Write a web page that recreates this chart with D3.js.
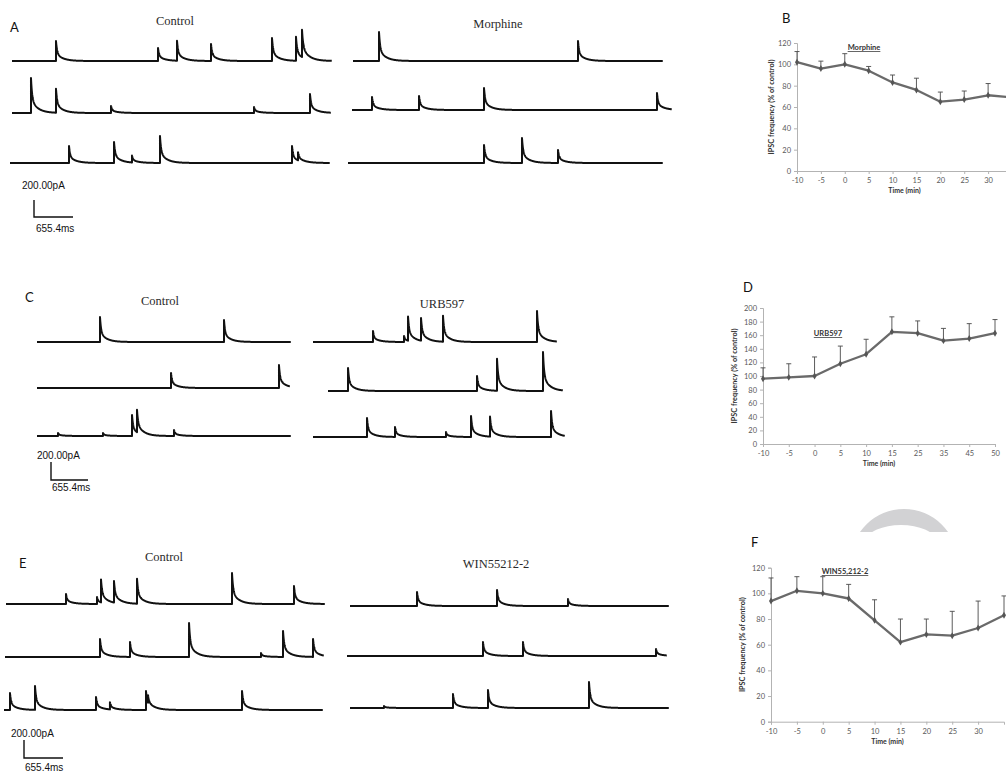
<!DOCTYPE html>
<html>
<head>
<meta charset="utf-8">
<script src="https://cdn.jsdelivr.net/npm/d3@7"></script>
<style>
  body { margin: 0; background: #fff; }
  svg { display: block; }
</style>
</head>
<body>
<svg id="fig" width="1006" height="778"></svg>
<script>
// ---------- trace data: each row = start ms, end ms, events [time ms, amplitude pA] ----------
const morphCtrlRows = [
    { start: 0, end: 5376, events: [[739, 235], [2453, 153], [2772, 235], [3343, 200], [4368, 270], [4771, 282], [4872, 320]] },
    { start: 0, end: 5360, events: [[319, 412], [739, 282], [1663, 82], [4066, 71], [5006, 223]] },
    { start: -34, end: 5342, events: [[958, 200], [1714, 247], [2016, 82], [2486, 318], [4704, 200], [4805, 94]] }
];
const morphDrugRows = [
    { start: 0, end: 5208, events: [[437, 341], [3780, 235]] },
    { start: -17, end: 5359, events: [[319, 153], [1109, 165], [2201, 259], [5107, 200]] },
    { start: -84, end: 5208, events: [[2201, 212], [2839, 294], [3444, 153]] }
];
const urbCtrlRows = [
    { start: 0, end: 4496, events: [[1115, 278], [3310, 244]] },
    { start: 0, end: 4478, events: [[2372, 167], [4283, 256]] },
    { start: 0, end: 4496, events: [[372, 33], [1168, 33], [1682, 233], [1770, 249], [2425, 67]] }
];
const urbDrugRows = [
    { start: 0, end: 4319, events: [[1062, 122], [1611, 67], [1682, 269], [1912, 252], [2301, 289], [3965, 344]] },
    { start: 266, end: 4425, events: [[620, 256], [2903, 167], [3257, 355], [4071, 433]] },
    { start: 0, end: 4460, events: [[956, 211], [1451, 111], [2354, 56], [2797, 233], [3133, 222], [4213, 289]] }
];
const winCtrlRows = [
    { start: 0, end: 5359, events: [[1008, 111], [1529, 78], [1596, 255], [1814, 240], [2201, 278], [3797, 344], [4838, 200]] },
    { start: -17, end: 5342, events: [[1579, 200], [2083, 167], [3075, 377], [4284, 44], [4654, 289], [5158, 200]] },
    { start: -34, end: 5326, events: [[67, 189], [487, 266], [1512, 144], [1746, 78], [2352, 211], [2386, 84], [3965, 211]] }
];
const winDrugRows = [
    { start: 0, end: 5359, events: [[1126, 155], [2470, 178], [3662, 78]] },
    { start: -50, end: 5326, events: [[2234, 155], [2906, 155], [5141, 78]] },
    { start: 0, end: 5359, events: [[571, 22], [1730, 155], [2318, 200], [4015, 289]] }
];
const scaleBarPA = 200;
const scaleBarMs = 655.4;

// ---------- time course data (% of control) ----------
const timeB = [-10, -5, 0, 5, 10, 15, 20, 25, 30, 35];
const meanB = [102, 96, 100, 94, 83, 76, 65, 67, 71, 69];
const errB = [10, 7, 10, 4, 7, 11, 9, 8, 11, 9];

const timeD = [-10, -5, 0, 5, 10, 15, 25, 35, 45, 50];
const meanD = [96, 98, 100, 118, 132, 165, 163, 152, 155, 163];
const errD = [16, 20, 28, 26, 22, 22, 18, 18, 22, 20];

const timeF = [-10, -5, 0, 5, 10, 15, 20, 25, 30, 35];
const meanF = [94, 102, 100, 96, 79, 62, 68, 67, 73, 83];
const errF = [18, 11, 13, 11, 16, 18, 12, 19, 21, 15];

const svg = d3.select("#fig");

// ---------- sIPSC traces ----------
function kernel(t) {
    return 0.6 * Math.exp(-t / 18) + 0.4 * Math.exp(-t / 110);
}

function current(t, events) {
    let s = 0;
    events.forEach(e => {
        if (t >= e[0]) s += e[1] * kernel(t - e[0]);
    });
    return s;
}

function drawTraces(rows, x0, msPerPx, pxPer200, rowY) {
    const g = svg.append("g");
    const x = d3.scaleLinear().domain([0, 1000]).range([x0, x0 + 1000 / msPerPx]);
    rows.forEach((r, i) => {
        const y = d3.scaleLinear().domain([0, scaleBarPA]).range([rowY[i], rowY[i] - pxPer200]);
        let ts = d3.range(r.start, r.end, 4);
        r.events.forEach(e => ts.push(e[0] - 0.01, e[0]));
        ts = ts.filter(t => t >= r.start && t <= r.end).sort((a, b) => a - b);
        const pts = ts.map(t => [t, current(t, r.events)]);
        g.append("path")
            .attr("d", d3.line().x(d => x(d[0])).y(d => y(d[1]))(pts))
            .attr("fill", "none")
            .attr("stroke", "#111")
            .attr("stroke-width", 2)
            .attr("stroke-linejoin", "round");
    });
    return x;
}

function scaleBar(cx, cy, msPerPx, pxPer200, labelPA, labelMs) {
    const x = d3.scaleLinear().domain([0, scaleBarMs]).range([cx, cx + scaleBarMs / msPerPx]);
    const y = d3.scaleLinear().domain([0, scaleBarPA]).range([cy, cy - pxPer200]);
    svg.append("path")
        .attr("d", `M${x(0)},${y(scaleBarPA)}V${y(0)}H${x(scaleBarMs)}`)
        .attr("fill", "none").attr("stroke", "#111").attr("stroke-width", 1.4);
    svg.append("text").attr("x", labelPA[0]).attr("y", labelPA[1])
        .attr("font-family", "Liberation Sans, Arial, sans-serif").attr("font-size", 10)
        .attr("fill", "#111").text("200.00pA");
    svg.append("text").attr("x", labelMs[0]).attr("y", labelMs[1])
        .attr("font-family", "Liberation Sans, Arial, sans-serif").attr("font-size", 10)
        .attr("fill", "#111").text("655.4ms");
}

function title(txt, cx, by) {
    svg.append("text").attr("x", cx).attr("y", by).attr("text-anchor", "middle")
        .attr("font-family", "Liberation Serif, Times New Roman, serif").attr("font-size", 12.5)
        .attr("fill", "#2a2a2a").text(txt);
}

function letter(txt, x, by) {
    svg.append("text").attr("x", x).attr("y", by)
        .attr("font-family", "Lato, Open Sans, sans-serif").attr("font-size", 13)
        .attr("fill", "#111").text(txt);
}

// panel A
drawTraces(morphCtrlRows, 12, 16.8, 17, [61, 113, 163]);
drawTraces(morphDrugRows, 353, 16.8, 17, [61, 110, 163]);
title("Control", 175, 25);
title("Morphine", 498, 28);
letter("A", 10, 32);
scaleBar(34, 217, 16.8, 17, [22, 189], [36, 232]);

// panel C
drawTraces(urbCtrlRows, 37, 17.7, 18, [342, 388, 436]);
drawTraces(urbDrugRows, 313, 17.7, 18, [342, 391, 437]);
title("Control", 160, 305);
title("URB597", 442, 308);
letter("C", 25, 302);
scaleBar(51, 480, 17.7, 18, [37, 459], [52, 491]);

// panel E
drawTraces(winCtrlRows, 6, 16.8, 18, [604, 657, 710]);
drawTraces(winDrugRows, 350, 16.8, 18, [606, 656, 708]);
title("Control", 164, 561);
title("WIN55212-2", 496, 568);
letter("E", 19, 568);
scaleBar(24, 758, 16.8, 18, [11, 737], [25, 771]);

// ---------- grey watermark arc ----------
svg.append("clipPath").attr("id", "wmclip")
    .append("rect").attr("x", 840).attr("y", 495).attr("width", 130).attr("height", 37);
svg.append("g").attr("clip-path", "url(#wmclip)")
    .append("path")
    .attr("d", d3.arc()({ innerRadius: 0, outerRadius: 53.6, startAngle: -Math.PI / 2, endAngle: Math.PI / 2 }) +
        " M -37,-22.6 a 34 15 0 1 0 68 0 a 34 15 0 1 0 -68 0")
    .attr("transform", "translate(904,562.6)")
    .attr("fill-rule", "evenodd")
    .attr("fill", "#d2d2d4");

// ---------- time course charts ----------
function timeCourse(cfg) {
    const g = svg.append("g");
    const x = d3.scalePoint().domain(cfg.times).range(cfg.xRange);
    const y = d3.scaleLinear().domain([0, cfg.yMax]).range(cfg.yRange);

    const yAxis = g.append("g").attr("transform", `translate(${cfg.xRange[0]},0)`)
        .call(d3.axisLeft(y).tickValues(d3.range(0, cfg.yMax + 1, 20)).tickSize(3).tickPadding(3));
    const xAxis = g.append("g").attr("transform", `translate(0,${cfg.yRange[0]})`)
        .call(d3.axisBottom(x).tickSize(3).tickPadding(4)
            .tickValues(cfg.times.filter(t => x(t) < cfg.labelLimit))
            .tickFormat(d => String(d)));
    [yAxis, xAxis].forEach(a => {
        a.selectAll("path, line").attr("stroke", "#b3b3b3");
        a.selectAll("text").attr("fill", "#595959").attr("font-size", 7.5)
            .attr("font-family", "Lato, Open Sans, sans-serif");
    });

    const pts = cfg.times.map((t, i) => ({ t: t, m: cfg.means[i], e: cfg.errs[i] }));

    // error bars (upper only)
    g.selectAll(".err").data(pts).join("path")
        .attr("d", d => `M${x(d.t)},${y(d.m)}V${y(d.m + d.e)}M${x(d.t) - 2.5},${y(d.m + d.e)}H${x(d.t) + 2.5}`)
        .attr("stroke", "#4a4a4a").attr("stroke-width", 0.9).attr("fill", "none");

    g.append("path")
        .attr("d", d3.line().x(d => x(d.t)).y(d => y(d.m))(pts))
        .attr("fill", "none").attr("stroke", "#6a6a6a").attr("stroke-width", 2.3)
        .attr("stroke-linejoin", "round");

    g.selectAll(".mk").data(pts).join("path")
        .attr("d", d3.symbol(d3.symbolDiamond, 14))
        .attr("transform", d => `translate(${x(d.t)},${y(d.m)})`)
        .attr("fill", "#555");

    g.append("text")
        .attr("x", (cfg.xRange[0] + cfg.xRange[1]) / 2).attr("y", cfg.yRange[0] + 22)
        .attr("text-anchor", "middle").attr("font-size", 7).attr("font-weight", "bold")
        .attr("font-family", "Lato, Open Sans, sans-serif").attr("fill", "#333")
        .text("Time (min)");

    g.append("text")
        .attr("transform", `translate(${cfg.yLabelX},${(cfg.yRange[0] + cfg.yRange[1]) / 2}) rotate(-90)`)
        .attr("text-anchor", "middle").attr("font-size", 7.3).attr("font-weight", "bold")
        .attr("font-family", "Lato, Open Sans, sans-serif").attr("fill", "#333")
        .text("IPSC frequency (% of control)");

    g.append("text")
        .attr("x", cfg.drugX).attr("y", cfg.drugY)
        .attr("text-anchor", "middle").attr("font-size", 7.5).attr("font-weight", "bold")
        .attr("text-decoration", "underline")
        .attr("font-family", "Lato, Open Sans, sans-serif").attr("fill", "#333")
        .text(cfg.drug);
}

timeCourse({ times: timeB, means: meanB, errs: errB, yMax: 120, labelLimit: 1000,
    xRange: [797, 1012], yRange: [171, 43], yLabelX: 774, drug: "Morphine", drugX: 864, drugY: 50 });
letter("B", 782, 23);

timeCourse({ times: timeD, means: meanD, errs: errD, yMax: 200, labelLimit: 1000,
    xRange: [763, 995], yRange: [444, 308], yLabelX: 737, drug: "URB597", drugX: 828, drugY: 336 });
letter("D", 743, 292);

timeCourse({ times: timeF, means: meanF, errs: errF, yMax: 120, labelLimit: 1000,
    xRange: [771, 1004], yRange: [721.7, 567.7], yLabelX: 745, drug: "WIN55,212-2", drugX: 845, drugY: 574 });
letter("F", 751, 547);
</script>
</body>
</html>
